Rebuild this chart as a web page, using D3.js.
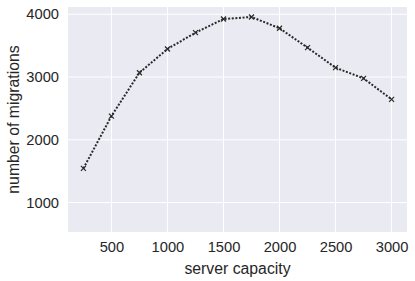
<!DOCTYPE html>
<html><head><meta charset="utf-8">
<script src="https://cdn.jsdelivr.net/npm/d3@7"></script>
<style>body{margin:0;background:#fff}</style></head>
<body><svg id="c" width="415" height="281"></svg>
<script>
const capacities = [250,500,750,1000,1250,1500,1750,2000,2250,2500,2750,3000];
const migrations = [1544,2378,3069,3447,3707,3925,3957,3777,3468,3149,2979,2644];
const xTicks = [500,1000,1500,2000,2500,3000];
const yTicks = [1000,2000,3000,4000];

const svg = d3.select('#c');
const L=68,R=407,T=7,B=232;
const x = d3.scaleLinear().domain([112.5,3137.5]).range([L,R]);
const y = d3.scaleLinear().domain([531,4116]).range([B,T]);
const font = "Liberation Sans, Arial, sans-serif";

svg.append('rect').attr('x',L).attr('y',T).attr('width',R-L).attr('height',B-T).attr('fill','#eaeaf2');
svg.append('g').selectAll('line').data(xTicks).join('line')
  .attr('x1',d=>x(d)).attr('x2',d=>x(d)).attr('y1',T).attr('y2',B)
  .attr('stroke','#fff').attr('stroke-width',1);
svg.append('g').selectAll('line').data(yTicks).join('line')
  .attr('y1',d=>y(d)).attr('y2',d=>y(d)).attr('x1',L).attr('x2',R)
  .attr('stroke','#fff').attr('stroke-width',1);

const xAxis = svg.append('g').attr('transform',`translate(0,${B})`)
  .call(d3.axisBottom(x).tickValues(xTicks).tickSize(0).tickPadding(10).tickFormat(d3.format('d')));
const yAxis = svg.append('g').attr('transform',`translate(${L},0)`)
  .call(d3.axisLeft(y).tickValues(yTicks).tickSize(0).tickPadding(9).tickFormat(d3.format('d')));
[xAxis,yAxis].forEach(a=>{a.select('.domain').remove();
  a.selectAll('text').attr('font-family',font).attr('font-size',14.7).attr('fill','#262626');});

svg.append('text').attr('x',(L+R)/2).attr('y',274).attr('text-anchor','middle')
  .attr('font-family',font).attr('font-size',15.8).attr('fill','#262626').text('server capacity');
svg.append('text').attr('transform',`translate(19,${(T+B)/2}) rotate(-90)`).attr('text-anchor','middle')
  .attr('font-family',font).attr('font-size',15.8).attr('fill','#262626').text('number of migrations');

const pts = capacities.map((c,i)=>[c,migrations[i]]);
svg.append('path').datum(pts)
  .attr('d',d3.line().x(d=>x(d[0])).y(d=>y(d[1])))
  .attr('fill','none').attr('stroke','#2a2a2a').attr('stroke-width',2).attr('stroke-dasharray','2,1.6');
const s=2.5;
svg.append('g').selectAll('path').data(pts).join('path')
  .attr('d',d=>`M${x(d[0])-s},${y(d[1])-s}L${x(d[0])+s},${y(d[1])+s}M${x(d[0])-s},${y(d[1])+s}L${x(d[0])+s},${y(d[1])-s}`)
  .attr('stroke','#2a2a2a').attr('stroke-width',1.2);
</script></body></html>
